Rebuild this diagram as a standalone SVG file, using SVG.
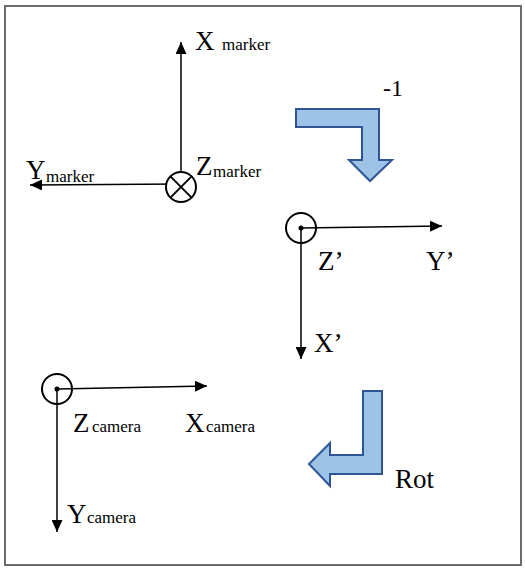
<svg xmlns="http://www.w3.org/2000/svg" width="525" height="568" viewBox="0 0 525 568">
<defs>
<marker id="ah" markerUnits="userSpaceOnUse" markerWidth="13" markerHeight="11" refX="12" refY="5.5" orient="auto">
<path d="M0,0 L12,5.5 L0,11 z" fill="#000"/>
</marker>
<style>
.ax{stroke:#000;stroke-width:1.5;fill:none;marker-end:url(#ah)}
.ring{fill:#fff;stroke:#000;stroke-width:2}
text{font-family:'Liberation Serif','Times New Roman',Times,serif;font-size:27px;fill:#000}
.s{font-size:17px}
.blue{fill:#9DC3E6;stroke:#2F5597;stroke-width:2;stroke-linejoin:miter}
</style>
</defs>
<rect x="5" y="6" width="516" height="559" fill="#fff" stroke="#6b6b6b" stroke-width="2"/>
<g id="connectors">
<line class="ax" x1="181" y1="187" x2="181" y2="42"/>
<line class="ax" x1="181" y1="184" x2="30" y2="185"/>
<line class="ax" x1="301" y1="228" x2="442" y2="226"/>
<line class="ax" x1="301" y1="228" x2="301" y2="359"/>
<line class="ax" x1="57" y1="389" x2="207" y2="386"/>
<line class="ax" x1="57" y1="389" x2="57" y2="532"/>
</g>
<g id="marker-frame">
<circle class="ring" cx="181" cy="187" r="15"/>
<line x1="170.4" y1="176.4" x2="191.6" y2="197.6" stroke="#000" stroke-width="2"/>
<line x1="191.6" y1="176.4" x2="170.4" y2="197.6" stroke="#000" stroke-width="2"/>
<text x="195" y="50">X<tspan class="s" x="222">marker</tspan></text>
<text x="26" y="179">Y<tspan class="s" x="46" y="182">marker</tspan></text>
<text x="196" y="175">Z<tspan class="s" x="213" y="177">marker</tspan></text>
</g>
<g id="flip-arrow">
<polygon class="blue" points="296,109 379,109 379,160 392,160 370,181 349,160 362,160 362,127 296,127"/>
<text x="383" y="96" style="font-size:24px">-1</text>
</g>
<g id="prime-frame">
<circle cx="301" cy="228" r="15" fill="none" stroke="#000" stroke-width="2"/>
<circle cx="301" cy="228" r="2.5" fill="#000"/>
<text x="318" y="270">Z’</text>
<text x="426" y="270">Y’</text>
<text x="314" y="352">X’</text>
</g>
<g id="rot-arrow">
<polygon class="blue" points="363,391 382,391 382,474 330,474 330,486 309,464 330,443 330,455 363,455"/>
<text x="395" y="488">Rot</text>
</g>
<g id="camera-frame">
<circle cx="57" cy="389" r="15" fill="none" stroke="#000" stroke-width="2"/>
<circle cx="57" cy="389" r="2.5" fill="#000"/>
<text x="73" y="432">Z<tspan class="s" x="92">camera</tspan></text>
<text x="185" y="432">X<tspan class="s" x="206">camera</tspan></text>
<text x="67" y="523">Y<tspan class="s" x="87">camera</tspan></text>
</g>
</svg>
